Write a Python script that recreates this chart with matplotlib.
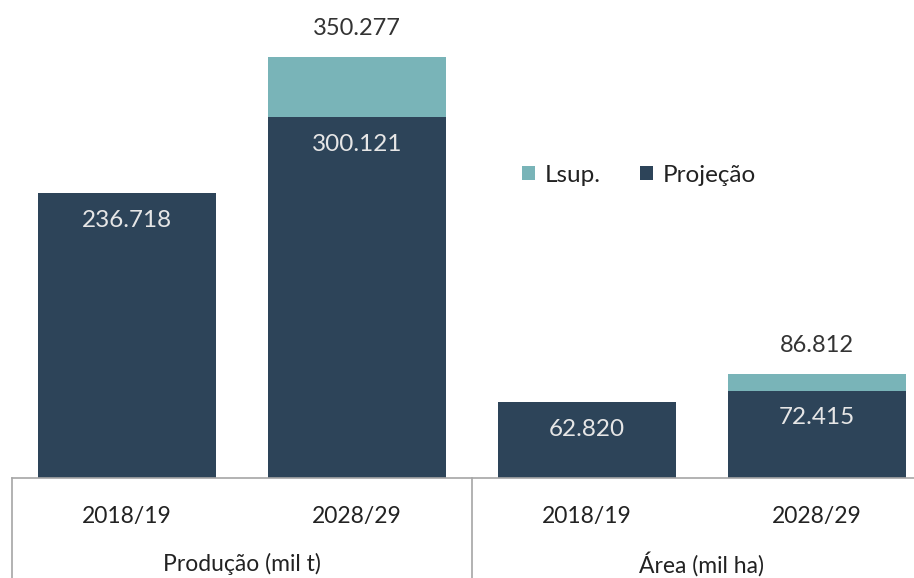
import numpy as np
import matplotlib.pyplot as plt
from matplotlib.transforms import blended_transform_factory

plt.rcParams['font.family'] = ['Lato', 'DejaVu Sans']

# dados: produção (mil t) e área (mil ha)
anos = ['2018/19', '2028/29', '2018/19', '2028/29']
grupos = ['Produção (mil t)', 'Área (mil ha)']
projecao = [236.718, 300.121, 62.820, 72.415]
lsup = [np.nan, 350.277, np.nan, 86.812]

cor_proj = '#2D4459'
cor_lsup = '#79B4B8'

fig = plt.figure(figsize=(9.14, 5.78), dpi=100)
ax = fig.add_axes([12 / 914, 100 / 578, 920 / 914, 478 / 578])

x = np.arange(len(anos))
proj = np.array(projecao)
sup = np.array(lsup)
extra = np.where(np.isnan(sup), 0.0, sup - proj)

ax.bar(x, proj, width=0.77, color=cor_proj, label='Projeção', zorder=2)
ax.bar(x, extra, width=0.77, bottom=proj, color=cor_lsup, label='Lsup.', zorder=2)

ax.set_xlim(-0.5, 3.5)
ax.set_ylim(0, 397.7)
ax.axis('off')

def fmt(v):
    return f'{v:.3f}'

for i in range(len(anos)):
    ax.annotate(fmt(proj[i]), (x[i], proj[i]), xytext=(0, -27), textcoords='offset pixels',
                ha='center', va='center', color='#E6E6E6', fontsize=17.5)
    if not np.isnan(sup[i]):
        ax.annotate(fmt(sup[i]), (x[i], sup[i]), xytext=(0, 28), textcoords='offset pixels',
                    ha='center', va='center', color='#333333', fontsize=17, annotation_clip=False)

# eixo de categorias em dois níveis
tr = blended_transform_factory(ax.transData, fig.transFigure)
ax.plot([-0.5, 3.5], [100 / 578, 100 / 578], transform=tr, color='#A6A6A6', lw=1.2, clip_on=False)
for xd in [-0.5, 1.5]:
    ax.plot([xd, xd], [0, 100 / 578], transform=tr, color='#A6A6A6', lw=1.2, clip_on=False)
for i, a in enumerate(anos):
    ax.text(x[i], 61 / 578, a, transform=tr, ha='center', va='center', fontsize=16.5, color='#222222')
for j, g in enumerate(grupos):
    ax.text(2 * j + 0.5, 14 / 578, g, transform=tr, ha='center', va='center', fontsize=16.5, color='#222222')

h, l = ax.get_legend_handles_labels()
ax.legend(h[::-1], l[::-1], loc='center left', bbox_to_anchor=(488 / 920, 1 - 175 / 478),
          frameon=False, fontsize=17.5, handlelength=0.55, handleheight=0.55, handletextpad=0.4,
          columnspacing=1.6, ncol=2, labelcolor='#222222')

fig.savefig('out.png', dpi=100)
